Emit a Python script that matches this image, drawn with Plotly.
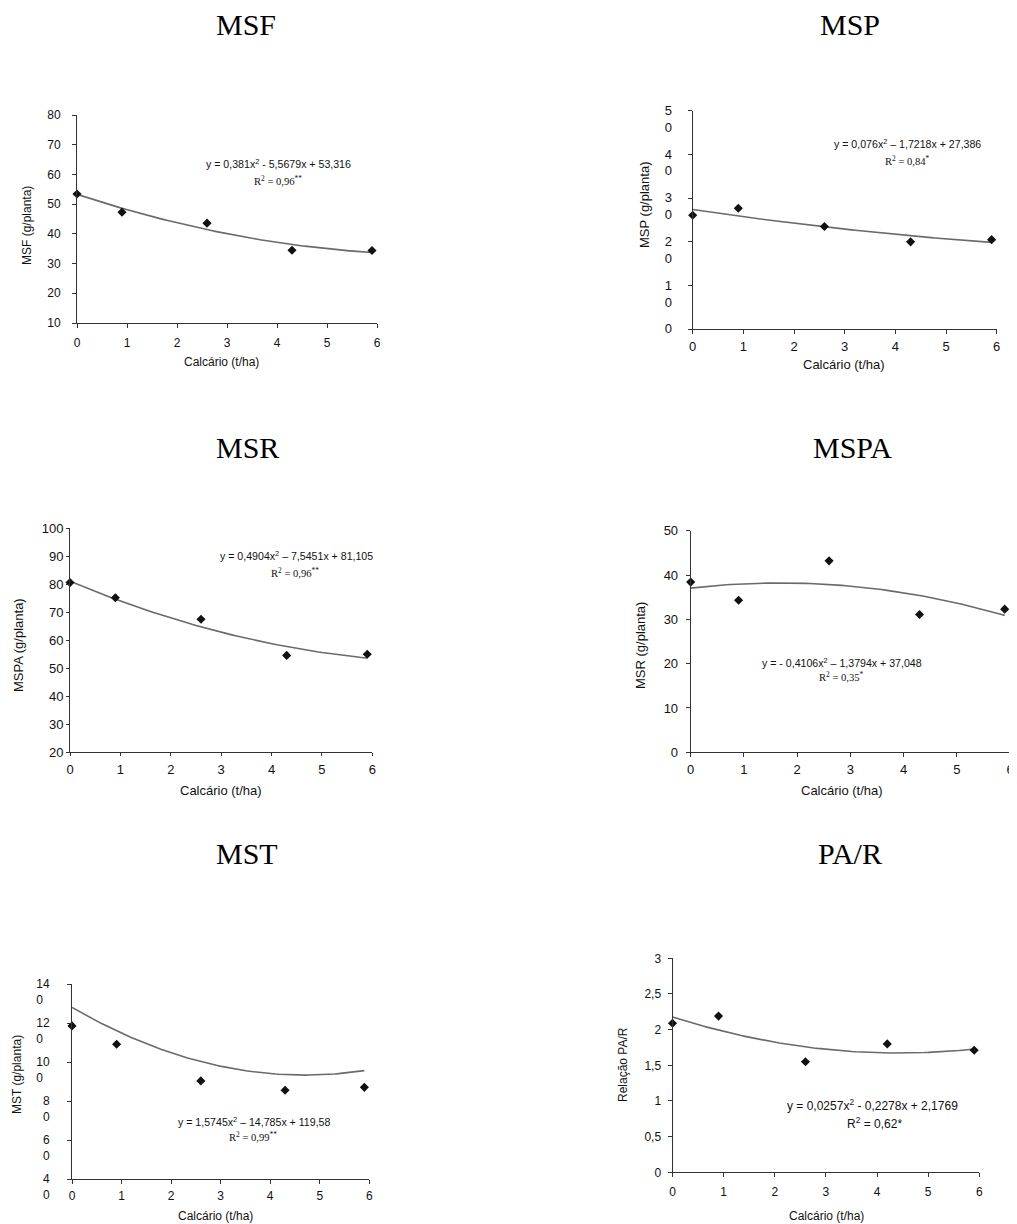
import numpy as np
import plotly.graph_objects as go

# page body keeps an 8px margin, so the figure is drawn 8px in from the corner
OFF = 8
W, H = 1017 - OFF, 1224 - OFF

# ---------------- data ----------------
calc_x = [0, 0.9, 2.6, 4.3, 5.9]
calc_x_par = [0, 0.9, 2.6, 4.2, 5.9]

msf = [53.4, 47.3, 43.6, 34.5, 34.4]
msp = [26.1, 27.7, 23.5, 20.0, 20.5]
mspa = [80.6, 75.2, 67.5, 54.6, 55.0]
msr = [38.4, 34.3, 43.2, 31.1, 32.3]
mst = [118.5, 109.1, 90.3, 85.5, 87.0]
par = [2.09, 2.19, 1.55, 1.80, 1.71]

# quadratic trend lines as drawn (a, b, c)
msf_fit = [0.381, -5.5679, 53.316]
msp_fit = [0.076, -1.7218, 27.386]
mspa_fit = [0.4904, -7.5451, 81.105]
msr_fit = [-0.4106, 1.3794, 37.048]
mst_fit = [1.5745, -14.785, 128.0]
par_fit = [0.0257, -0.2278, 2.1769]

titles = ["MSF", "MSP", "MSR", "MSPA", "MST", "PA/R"]
ylabels = ["MSF (g/planta)", "MSP (g/planta)", "MSPA (g/planta)",
           "MSR (g/planta)", "MST (g/planta)", "Relação PA/R"]
xlabel = "Calcário (t/ha)"

eq_texts = ["y = 0,381x<sup>2</sup> - 5,5679x + 53,316",
            "y = 0,076x<sup>2</sup> – 1,7218x + 27,386",
            "y = 0,4904x<sup>2</sup> – 7,5451x + 81,105",
            "y = - 0,4106x<sup>2</sup> – 1,3794x + 37,048",
            "y = 1,5745x<sup>2</sup> – 14,785x + 119,58",
            "y = 0,0257x<sup>2</sup> - 0,2278x + 2,1769"]
r2_texts = ["R<sup>2</sup> = 0,96<sup>**</sup>",
            "R<sup>2</sup> = 0,84<sup>*</sup>",
            "R<sup>2</sup> = 0,96<sup>**</sup>",
            "R<sup>2</sup> = 0,35<sup>*</sup>",
            "R<sup>2</sup> = 0,99<sup>**</sup>",
            "R<sup>2</sup> = 0,62*"]

x_ticks = [0, 1, 2, 3, 4, 5, 6]
msf_yticks = [10, 20, 30, 40, 50, 60, 70, 80]
msp_yticks = [0, 10, 20, 30, 40, 50]
msp_yticktext = ["0<br>\u00a0", "1<br>0", "2<br>0", "3<br>0", "4<br>0", "5<br>0"]
mspa_yticks = [20, 30, 40, 50, 60, 70, 80, 90, 100]
msr_yticks = [0, 10, 20, 30, 40, 50]
mst_yticks = [40, 60, 80, 100, 120, 140]
mst_yticktext = ["4<br>0", "6<br>0", "8<br>0", "10<br>0\u00a0\u00a0", "12<br>0\u00a0\u00a0", "14<br>0\u00a0\u00a0"]
par_yticks = [0, 0.5, 1, 1.5, 2, 2.5, 3]
par_yticktext = ["0", "0,5", "1", "1,5", "2", "2,5", "3"]

SANS = "Liberation Sans, Arial, sans-serif"
SERIF = "Liberation Serif, Times New Roman, serif"

# -------------- layout (page pixels) --------------
panels = [
    dict(x=calc_x, y=msf, fit=msf_fit, box=(77, 377, 115, 323), yr=[10, 80],
         yt=msf_yticks, ytt=None, fs=12, shift=0, ysd=9, xsd=5, tl=4,
         title=(246, 24), ylab=(27, 226), xlab=(221, 362), eq=(278, 164), r2=(278, 180), eqfs=10.6, r2serif=True),
    dict(x=calc_x, y=msp, fit=msp_fit, box=(692.7, 996.7, 110.7, 329.3), yr=[0, 50],
         yt=msp_yticks, ytt=msp_yticktext, fs=13, shift=8, ysd=13, xsd=1, tl=4,
         title=(850, 24), ylab=(645, 205), xlab=(844, 364), eq=(907, 144), r2=(907, 160), eqfs=10.6, r2serif=True),
    dict(x=calc_x, y=mspa, fit=mspa_fit, box=(70, 372.3, 528.3, 752.3), yr=[20, 100],
         yt=mspa_yticks, ytt=None, fs=13, shift=0, ysd=0, xsd=2, tl=3,
         title=(247, 447), ylab=(18, 645), xlab=(221, 790), eq=(296, 556), r2=(295, 572), eqfs=10.6, r2serif=True),
    dict(x=calc_x, y=msr, fit=msr_fit, box=(690.7, 1010, 530.7, 752.3), yr=[0, 50],
         yt=msr_yticks, ytt=None, fs=13, shift=0, ysd=5, xsd=1, tl=4,
         title=(852, 447), ylab=(640, 646), xlab=(842, 790), eq=(842, 662), r2=(841, 676), eqfs=10.6, r2serif=True),
    dict(x=calc_x, y=mst, fit=mst_fit, box=(72, 369.3, 984, 1179), yr=[40, 140],
         yt=mst_yticks, ytt=mst_yticktext, fs=12, shift=8, ysd=15, xsd=2, tl=4,
         title=(247, 853), ylab=(17, 1075), xlab=(215, 1216), eq=(254, 1121), r2=(253, 1136), eqfs=10.6, r2serif=True),
    dict(x=calc_x_par, y=par, fit=par_fit, box=(672.5, 979.3, 958.3, 1172.3), yr=[0, 3],
         yt=par_yticks, ytt=par_yticktext, fs=12, shift=0, ysd=4, xsd=4, tl=4,
         title=(850, 853), ylab=(623, 1065), xlab=(826, 1216), eq=(872, 1105), r2=(874, 1123), eqfs=12, r2serif=False),
]

def px(x):
    return (x - OFF) / W

def py(y):
    return 1 - (y - OFF) / H

fig = go.Figure()
annotations = []
for i, p in enumerate(panels):
    n = "" if i == 0 else str(i + 1)
    xa, ya = "x" + n, "y" + n
    x0, x1, yt_, yb_ = p["box"]
    a, b, c = p["fit"]
    xs = np.linspace(0, p["x"][-1], 80)
    fig.add_trace(go.Scatter(x=xs, y=a * xs ** 2 + b * xs + c, mode="lines",
                             line=dict(color="#6a6a6a", width=1.6),
                             xaxis=xa, yaxis=ya, showlegend=False, hoverinfo="skip"))
    fig.add_trace(go.Scatter(x=p["x"], y=p["y"], mode="markers",
                             marker=dict(symbol="diamond", size=7, color="#111111"),
                             xaxis=xa, yaxis=ya, showlegend=False, cliponaxis=False))
    axstyle = dict(showgrid=False, zeroline=False, showline=True, linecolor="#333333",
                   linewidth=1, ticks="outside", ticklen=p["tl"], tickcolor="#333333", tickwidth=1,
                   automargin=False, ticklabeloverflow="allow", fixedrange=True,
                   tickfont=dict(family=SANS, size=p["fs"], color="#111111"))
    fig.layout["xaxis" + n] = dict(domain=[px(x0), px(x1)], range=[0, 6], anchor=ya,
                                   tickmode="array", tickvals=x_ticks,
                                   ticklabelstandoff=p["xsd"], **axstyle)
    ydict = dict(domain=[py(yb_), py(yt_)], range=p["yr"], anchor=xa,
                 tickmode="array", tickvals=p["yt"], ticklabelstandoff=p["ysd"], **axstyle)
    if p["ytt"] is not None:
        ydict["ticktext"] = p["ytt"]
    if p["shift"]:
        ydict["ticklabelshift"] = p["shift"]
    fig.layout["yaxis" + n] = ydict

    tx, ty = p["title"]
    annotations.append(dict(x=px(tx), y=py(ty), xref="paper", yref="paper", text=titles[i],
                            showarrow=False, xanchor="center", yanchor="middle",
                            font=dict(family=SERIF, size=30, color="#000000")))
    lx, ly = p["ylab"]
    annotations.append(dict(x=px(lx), y=py(ly), xref="paper", yref="paper", text=ylabels[i],
                            showarrow=False, xanchor="center", yanchor="middle", textangle=-90,
                            font=dict(family=SANS, size=p["fs"], color="#111111")))
    bx, by = p["xlab"]
    annotations.append(dict(x=px(bx), y=py(by), xref="paper", yref="paper", text=xlabel,
                            showarrow=False, xanchor="center", yanchor="middle",
                            font=dict(family=SANS, size=p["fs"], color="#111111")))
    ex, ey = p["eq"]
    annotations.append(dict(x=px(ex), y=py(ey), xref="paper", yref="paper", text=eq_texts[i],
                            showarrow=False, xanchor="center", yanchor="middle",
                            font=dict(family=SANS, size=p["eqfs"], color="#111111")))
    rx, ry = p["r2"]
    annotations.append(dict(x=px(rx), y=py(ry), xref="paper", yref="paper", text=r2_texts[i],
                            showarrow=False, xanchor="center", yanchor="middle",
                            font=dict(family=SERIF if p["r2serif"] else SANS,
                                      size=p["eqfs"], color="#111111")))

fig.update_layout(width=W, height=H,
                  margin=dict(l=0, r=0, t=0, b=0, pad=0, autoexpand=False),
                  plot_bgcolor="white", paper_bgcolor="white",
                  annotations=annotations, showlegend=False)

fig.write_html("out.html", config={"displayModeBar": False})
